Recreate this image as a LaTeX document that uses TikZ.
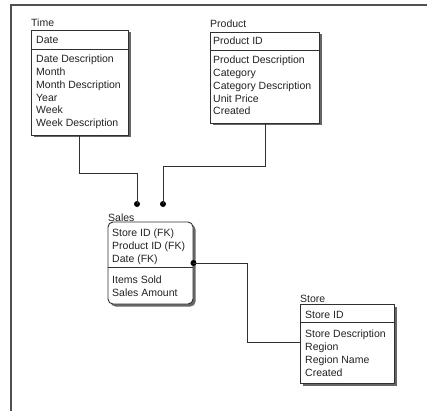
\documentclass[tikz,border=0pt]{standalone}
\usepackage{fontspec}
\setmainfont{Liberation Sans}
\usetikzlibrary{calc,shadows}
\definecolor{ink}{HTML}{222222}
\definecolor{edge}{HTML}{303030}
\definecolor{frame}{HTML}{505050}
\begin{document}
\begin{tikzpicture}[x=1pt,y=-1pt,
  entity/.style={draw=edge,line width=0.9pt,fill=white,inner sep=0pt,
    drop shadow={shadow xshift=2.5pt,shadow yshift=-2.5pt,fill=black!60,opacity=1}},
  depent/.style={entity,rounded corners=5pt},
  row/.style={anchor=base west,inner sep=0pt,text=ink,font=\fontsize{10.5}{12}\selectfont},
  sep/.style={draw=edge,line width=0.9pt},
  conn/.style={draw=edge,line width=1pt},
  dot/.style={circle,fill=black,inner sep=0pt,minimum size=6pt}]
\useasboundingbox (0,0) rectangle (427,411);
% outer frame (left and top edges)
\draw[frame,line width=2pt] (10.5,411) -- (10.5,5.5) -- (427,5.5);

% ---- Time ----
\node[entity,minimum width=97pt,minimum height=105pt] (time) at (79.5,82.5) {};
\node[row] at (31,27) {Time};
\node[row] at (36,44) {Date};
\draw[sep] (time.west |- 0,49) -- (time.east |- 0,49);
\foreach \t [count=\i from 0] in {Date Description,Month,Month Description,Year,Week,Week Description}
  \node[row] at (36,63+12.7*\i) {\t};

% ---- Product ----
\node[entity,minimum width=109pt,minimum height=91pt] (prod) at (264.5,77.5) {};
\node[row] at (210,28) {Product};
\node[row] at (213,45) {Product ID};
\draw[sep] (prod.west |- 0,50) -- (prod.east |- 0,50);
\foreach \t [count=\i from 0] in {Product Description,Category,Category Description,Unit Price,Created}
  \node[row] at (213,64+12.7*\i) {\t};

% ---- Sales ----
\node[depent,minimum width=85pt,minimum height=82pt] (sales) at (150.5,263) {};
\node[row] at (108,221) {Sales};
\foreach \t [count=\i from 0] in {Store ID (FK),Product ID (FK),Date (FK)}
  \node[row] at (112,236+13*\i) {\t};
\draw[sep] (sales.west |- 0,267) -- (sales.east |- 0,267);
\foreach \t [count=\i from 0] in {Items Sold,Sales Amount}
  \node[row] at (112,283+13*\i) {\t};

% ---- Store ----
\node[entity,minimum width=94pt,minimum height=79pt] (store) at (347,343.5) {};
\node[row] at (300,302) {Store};
\node[row] at (305,318) {Store ID};
\draw[sep] (store.west |- 0,322) -- (store.east |- 0,322);
\foreach \t [count=\i from 0] in {Store Description,Region,Region Name,Created}
  \node[row] at (305,337+13*\i) {\t};

% ---- relationships ----
\node[dot] (d1) at (137,204) {};
\node[dot] (d2) at (163,204) {};
\node[dot] (d3) at (sales.east |- 0,263) {};
\draw[conn] ($(time.south west)+(49,0)$) -- ++(0,38) -| (d1.center);
\draw[conn] ($(prod.south west)+(56,0)$) -- ++(0,43) -| (d2.center);
\draw[conn] (d3.center) -- ++(54,0) |- ($(store.north west)+(0,39)$);
\end{tikzpicture}
\end{document}
